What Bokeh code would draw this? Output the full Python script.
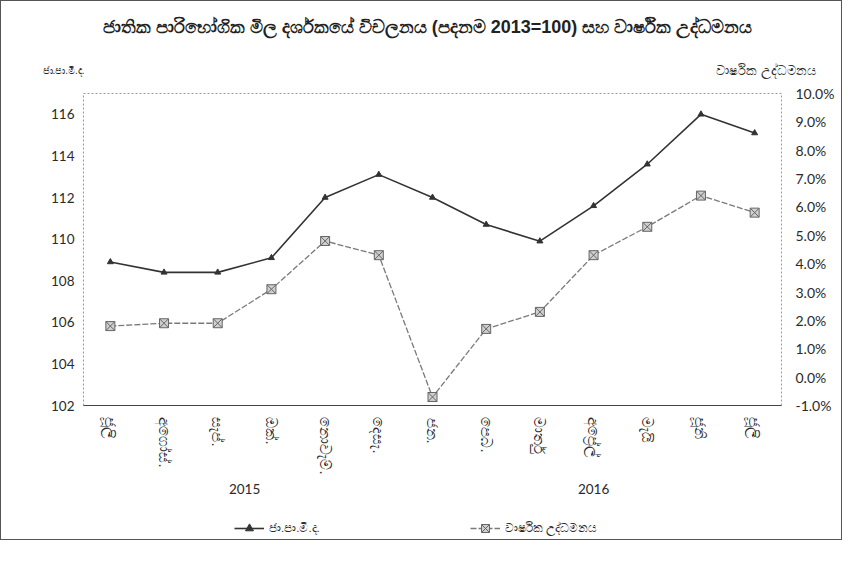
import math
from bokeh.plotting import figure
from bokeh.layouts import column
from bokeh.models import (FactorRange, Range1d, LinearAxis, FixedTicker, PrintfTickFormatter,
                          Label, Legend, LegendItem, ColumnDataSource, Plot)
from bokeh.embed import file_html
from bokeh.resources import INLINE

# ---- data ----
years = ["2015"] * 6 + ["2016"] * 7
months = ["ජූලි", "අගෝස්.", "සැප්.", "ඔක්.", "නොවැම්.", "දෙසැ.",
          "ජන.", "පෙබ.", "මාර්තු", "අප්‍රේල්", "මැයි", "ජූනි", "ජූලි"]
cpi = [108.9, 108.4, 108.4, 109.1, 112.0, 113.1, 112.0, 110.7, 109.9, 111.6, 113.6, 116.0, 115.1]
inflation = [1.8, 1.9, 1.9, 3.1, 4.8, 4.3, -0.7, 1.7, 2.3, 4.3, 5.3, 6.4, 5.8]
left_ticks = [102, 104, 106, 108, 110, 112, 114, 116]
right_ticks = [-1, 0, 1, 2, 3, 4, 5, 6, 7, 8, 9, 10]

title_text = "ජාතික පාරිභෝගික මිල දර්ශකයේ විචලනය (පදනම 2013=100) සහ වාර්ෂික උද්ධමනය"
left_label = "ජා.පා.මි.ද."
right_label = "වාර්ෂික උද්ධමනය"
cpi_name = "ජා.පා.මි.ද."
infl_name = "වාර්ෂික උද්ධමනය"

factors = list(zip(years, months))
src = ColumnDataSource(dict(x=factors, cpi=cpi, infl=inflation))

FONT = "Lato"
TXT = "#2a2a2a"
W = 840
FW, FH = 698, 312
CPI_COLOR, INF_LINE, INF_FILL, INF_EDGE = "#333333", "#7a7a7a", "#cfcfcf", "#666666"

CAN_FREE = "frame_align" in Plot.properties()
X0 = 9 if CAN_FREE else 89          # page x of the strips' frame left edge
FRAME_R = (W if CAN_FREE else FW)    # usable frame width of the strips


def blank(height):
    f = figure(width=W, height=height, x_range=Range1d(0, 1), y_range=Range1d(0, 1),
               min_border=0, toolbar_location=None, output_backend="svg",
               x_axis_location=None, y_axis_location=None)
    if CAN_FREE:
        f.frame_align = False
    f.outline_line_color = None
    f.xgrid.visible = False
    f.ygrid.visible = False
    f.background_fill_color = "white"
    f.border_fill_color = "white"
    return f


# ---- header: title and axis captions ----
head = blank(82)
head.add_layout(Label(x=435 - X0, y=57, x_units="screen", y_units="screen", text=title_text,
                      text_align="center", text_baseline="middle",
                      text_font_size="18px", text_font_style="bold", text_color="#222222"))
head.add_layout(Label(x=max(50 - X0, 0), y=13, x_units="screen", y_units="screen",
                      text=left_label, text_align="left", text_baseline="middle",
                      text_font_size="10px", text_color=TXT))
head.add_layout(Label(x=min(823 - X0, FRAME_R), y=13, x_units="screen", y_units="screen",
                      text=right_label, text_align="right", text_baseline="middle",
                      text_font_size="13px", text_color=TXT))

# ---- main chart ----
p = figure(x_range=FactorRange(*factors, group_padding=0, factor_padding=0, range_padding=0),
           y_range=Range1d(102, 117), frame_width=FW, frame_height=FH,
           output_backend="svg", toolbar_location=None,
           min_border_left=82, min_border_right=60, min_border_top=10, min_border_bottom=96)
p.extra_y_ranges = {"infl": Range1d(-1, 10)}

p.xgrid.grid_line_color = None
p.ygrid.grid_line_color = None
p.outline_line_color = "#999999"
p.outline_line_dash = "2 2"
p.background_fill_color = "white"
p.border_fill_color = "white"

ly = p.yaxis[0]
ly.ticker = FixedTicker(ticks=left_ticks)
ly.axis_line_color = None
ly.major_tick_line_color = None
ly.minor_tick_line_color = None
ly.major_label_text_font = FONT
ly.major_label_text_font_size = "13.5px"
ly.major_label_text_color = TXT
ly.major_label_standoff = 3

ry = LinearAxis(y_range_name="infl", ticker=FixedTicker(ticks=right_ticks),
                formatter=PrintfTickFormatter(format="%.1f%%"))
ry.axis_line_color = None
ry.major_tick_line_color = None
ry.minor_tick_line_color = None
ry.major_label_text_font = FONT
ry.major_label_text_font_size = "14px"
ry.major_label_text_color = TXT
ry.major_label_standoff = 8
p.add_layout(ry, "right")

xa = p.xaxis[0]
xa.axis_line_color = "#444444"
xa.axis_line_width = 1.2
xa.major_tick_line_color = None
xa.minor_tick_line_color = None
xa.separator_line_color = None
xa.major_label_orientation = -math.pi / 2
xa.major_label_text_font_size = "15px"
xa.major_label_text_color = TXT
xa.major_label_standoff = 6
xa.group_text_font = FONT
xa.group_text_font_size = "13.5px"
xa.group_text_font_style = "normal"
xa.group_text_color = TXT

p.line("x", "cpi", source=src, line_color=CPI_COLOR, line_width=1.6)
p.scatter("x", "cpi", source=src, marker="triangle", size=6,
          fill_color=CPI_COLOR, line_color=CPI_COLOR)
p.line("x", "infl", source=src, y_range_name="infl", line_color=INF_LINE,
       line_width=1.3, line_dash="6 2")
p.scatter("x", "infl", source=src, y_range_name="infl", marker="square_x", size=9,
          fill_color=INF_FILL, line_color=INF_EDGE)

# ---- legend strip (legend keys drawn from hidden renderers) ----
foot = blank(38)
key_src = ColumnDataSource(dict(x=cpi[:1], y=cpi[:1]))
k1 = foot.line("x", "y", source=key_src, line_color=CPI_COLOR, line_width=1.6, visible=False)
k2 = foot.scatter("x", "y", source=key_src, marker="triangle", size=6,
                  fill_color=CPI_COLOR, line_color=CPI_COLOR, visible=False)
k3 = foot.line("x", "y", source=key_src, line_color=INF_LINE, line_width=1.3,
               line_dash="6 2", visible=False)
k4 = foot.scatter("x", "y", source=key_src, marker="square_x", size=9,
                  fill_color=INF_FILL, line_color=INF_EDGE, visible=False)
legend = Legend(items=[LegendItem(label=cpi_name, renderers=[k1, k2]),
                       LegendItem(label=infl_name, renderers=[k3, k4])],
                orientation="horizontal", location=(242 - X0, 1), border_line_color=None,
                background_fill_alpha=0, inactive_fill_alpha=0,
                label_text_font_size="11.5px",
                label_text_color=TXT, spacing=150, glyph_width=30, margin=0, padding=2)
foot.add_layout(legend)

layout = column(head, p, foot, spacing=0, styles={"border": "1px solid #555"})

open("out.html", "w").write(file_html(layout, INLINE))
